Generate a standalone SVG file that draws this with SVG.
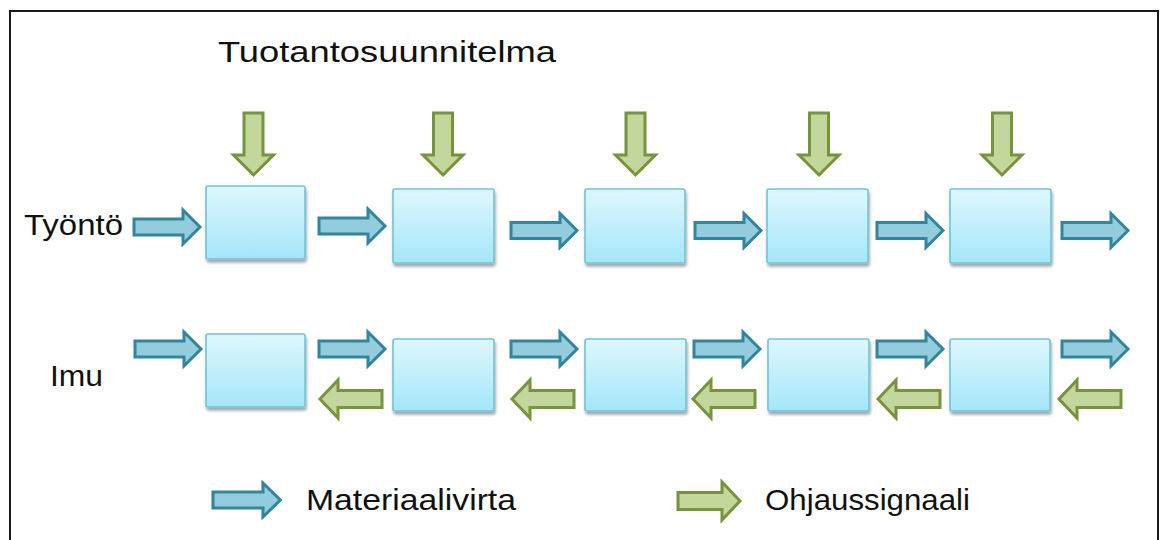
<svg xmlns="http://www.w3.org/2000/svg" width="1162" height="540" viewBox="0 0 1162 540">
  <style>
    .lbl { font-family: "Liberation Sans", Arial, sans-serif; fill: #111; }
    .box { fill: url(#boxFill); stroke: #6fc4da; stroke-width: 1.6; filter: url(#shadow); }
    .flow { fill: #93cddd; stroke: #31859c; stroke-width: 3; stroke-linejoin: miter; }
    .ctrl { fill: #c3d69b; stroke: #77933c; stroke-width: 3; stroke-linejoin: miter; }
  </style>
  <defs>
    <linearGradient id="boxFill" x1="0" y1="0" x2="0" y2="1">
      <stop offset="0" stop-color="#def7fd"/>
      <stop offset="1" stop-color="#a4e6f9"/>
    </linearGradient>
    <filter id="shadow" x="-10%" y="-10%" width="125%" height="130%">
      <feGaussianBlur in="SourceAlpha" stdDeviation="1.5"/>
      <feOffset dx="1" dy="2.5" result="b"/>
      <feComponentTransfer><feFuncA type="linear" slope="0.35"/></feComponentTransfer>
      <feMerge><feMergeNode/><feMergeNode in="SourceGraphic"/></feMerge>
    </filter>
    <!-- material flow arrow: tail at x=0, tip at x=66, centred on y=0 -->
    <path id="flowArrow" class="flow" d="M0,-8 H49 V-17 L66,0 L49,17 V8 H0 Z"/>
    <!-- control signal arrow pointing right: tail at x=0, tip at x=62 -->
    <path id="ctrlRight" class="ctrl" d="M0,-8.5 H44 V-19 L62,0 L44,19 V8.5 H0 Z"/>
    <!-- control signal arrow pointing down: top at y=0, tip at y=62 -->
    <path id="ctrlDown" class="ctrl" d="M-9.5,0 H9.5 V42 H20 L0,62 L-20,42 H-9.5 Z"/>
  </defs>

  <rect width="1162" height="540" fill="#ffffff"/>
  <!-- frame -->
  <path d="M10,548 V11 H1158 V548" fill="none" stroke="#1a1a1a" stroke-width="2"/>

  <!-- labels -->
  <text class="lbl" x="218" y="62" font-size="30" textLength="338" lengthAdjust="spacingAndGlyphs">Tuotantosuunnitelma</text>
  <text class="lbl" x="24" y="235" font-size="29" textLength="99" lengthAdjust="spacingAndGlyphs">Työntö</text>
  <text class="lbl" x="50" y="386" font-size="29" textLength="53" lengthAdjust="spacingAndGlyphs">Imu</text>
  <text class="lbl" x="306" y="510" font-size="29" textLength="210" lengthAdjust="spacingAndGlyphs">Materiaalivirta</text>
  <text class="lbl" x="765" y="510" font-size="29" textLength="205" lengthAdjust="spacingAndGlyphs">Ohjaussignaali</text>

  <!-- push line -->
  <g id="push-1"><rect class="box" x="206" y="186" width="99" height="73" rx="2"/></g>
  <g id="push-2"><rect class="box" x="393" y="189" width="101" height="74" rx="2"/></g>
  <g id="push-3"><rect class="box" x="585" y="189" width="100" height="74" rx="2"/></g>
  <g id="push-4"><rect class="box" x="767" y="189" width="101" height="74" rx="2"/></g>
  <g id="push-5"><rect class="box" x="950" y="189" width="101" height="74" rx="2"/></g>

  <!-- pull line -->
  <g id="pull-1"><rect class="box" x="206" y="334" width="99" height="73" rx="2"/></g>
  <g id="pull-2"><rect class="box" x="393" y="339" width="101" height="72" rx="2"/></g>
  <g id="pull-3"><rect class="box" x="585" y="339" width="101" height="72" rx="2"/></g>
  <g id="pull-4"><rect class="box" x="768" y="339" width="101" height="72" rx="2"/></g>
  <g id="pull-5"><rect class="box" x="950" y="339" width="100" height="72" rx="2"/></g>

  <g id="connectors">
    <!-- production plan signals into each push stage -->
    <use href="#ctrlDown" transform="translate(253.5,113)"/>
    <use href="#ctrlDown" transform="translate(443,113)"/>
    <use href="#ctrlDown" transform="translate(635.5,113)"/>
    <use href="#ctrlDown" transform="translate(819,113)"/>
    <use href="#ctrlDown" transform="translate(1002,113)"/>

    <!-- push material flow -->
    <use href="#flowArrow" transform="translate(134,227)"/>
    <use href="#flowArrow" transform="translate(319,226)"/>
    <use href="#flowArrow" transform="translate(511,230.5)"/>
    <use href="#flowArrow" transform="translate(695,230.5)"/>
    <use href="#flowArrow" transform="translate(877,230.5)"/>
    <use href="#flowArrow" transform="translate(1062,230.5)"/>

    <!-- pull material flow -->
    <use href="#flowArrow" transform="translate(135,349)"/>
    <use href="#flowArrow" transform="translate(319,349)"/>
    <use href="#flowArrow" transform="translate(511,349)"/>
    <use href="#flowArrow" transform="translate(694,349)"/>
    <use href="#flowArrow" transform="translate(877,349)"/>
    <use href="#flowArrow" transform="translate(1062,349)"/>

    <!-- pull signals travelling upstream -->
    <use href="#ctrlRight" transform="translate(382,399) scale(-1,1)"/>
    <use href="#ctrlRight" transform="translate(574,399) scale(-1,1)"/>
    <use href="#ctrlRight" transform="translate(755,399) scale(-1,1)"/>
    <use href="#ctrlRight" transform="translate(940,399) scale(-1,1)"/>
    <use href="#ctrlRight" transform="translate(1121,399) scale(-1,1)"/>

    <!-- legend -->
    <use href="#flowArrow" transform="translate(213,500) scale(1.02,1)"/>
    <use href="#ctrlRight" transform="translate(678,501)"/>
  </g>
</svg>
